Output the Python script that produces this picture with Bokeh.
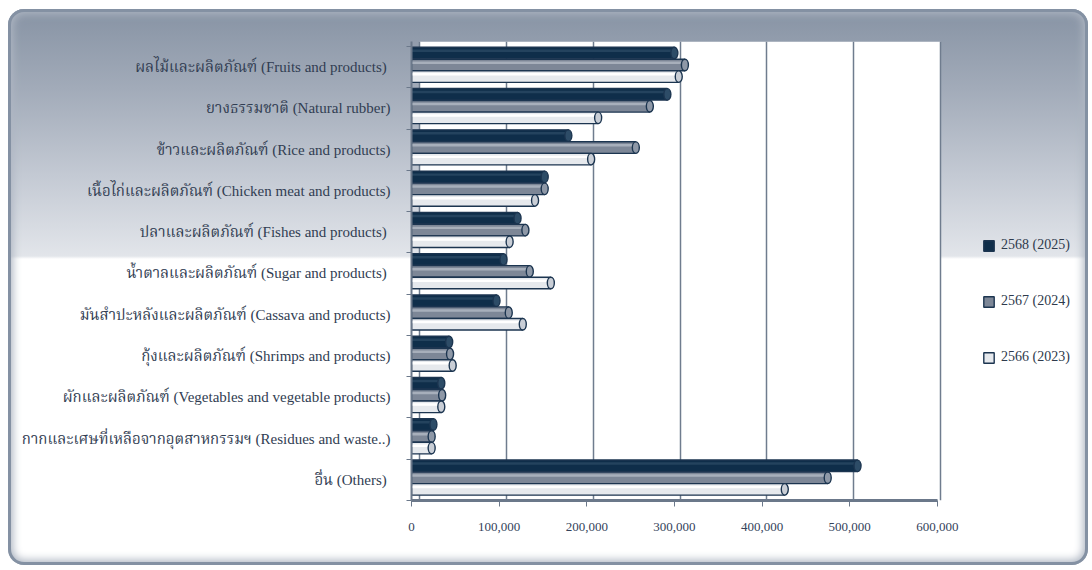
from bokeh.plotting import figure
from bokeh.models import (ColumnDataSource, Range1d, FixedTicker, NumeralTickFormatter,
                          Legend, LegendItem, Grid, BoxAnnotation)
from bokeh.transform import dodge
from bokeh.embed import file_html
from bokeh.resources import INLINE

# ---------------- data ----------------
categories = [
    "ผลไม้และผลิตภัณฑ์ (Fruits and  products)",
    "ยางธรรมชาติ (Natural rubber)",
    "ข้าวและผลิตภัณฑ์ (Rice and products)",
    "เนื้อไก่และผลิตภัณฑ์ (Chicken meat and products)",
    "ปลาและผลิตภัณฑ์ (Fishes and  products)",
    "น้ำตาลและผลิตภัณฑ์ (Sugar and  products)",
    "มันสำปะหลังและผลิตภัณฑ์ (Cassava and products)",
    "กุ้งและผลิตภัณฑ์ (Shrimps and products)",
    "ผักและผลิตภัณฑ์ (Vegetables and vegetable products)",
    "กากและเศษที่เหลือจากอุตสาหกรรมฯ (Residues and waste..)",
    "อื่น  (Others)",
]
y2568 = [300000, 292000, 179000, 152000, 121000, 105000, 97000, 43000, 34000, 25000, 509000]
y2567 = [312000, 272000, 256000, 152000, 130000, 135000, 111000, 44000, 35000, 23000, 475000]
y2566 = [305000, 213000, 205000, 141000, 112000, 159000, 127000, 47000, 34000, 23000, 426000]
series_labels = ["2568 (2025)", "2567 (2024)", "2566 (2023)"]
x_ticks = [0, 100000, 200000, 300000, 400000, 500000, 600000]

FONT = "'Liberation Serif', 'Noto Serif Thai', 'Noto Sans Thai', 'DejaVu Serif', serif"
n = len(categories)
pos = [n - 1 - i for i in range(n)]
src = ColumnDataSource(dict(pos=pos, cat=categories, a=y2568, b=y2567, c=y2566))

p = figure(width=1080, height=556, output_backend="svg", toolbar_location=None,
           x_range=Range1d(0, 758900), y_range=Range1d(-0.5, n - 0.38),
           min_border_left=403, min_border_right=12, min_border_top=32, min_border_bottom=65)
p.border_fill_color = None
p.background_fill_color = None
p.outline_line_color = None
p.xgrid.visible = False
p.ygrid.visible = False
p.styles = {
    "margin-left": "8px",
    "margin-top": "9px",
    "background": "linear-gradient(180deg, #8793a4 0px, #a2abb9 80px, #c3c9d3 165px, #e2e5ea 247px, #ffffff 250px, #ffffff 100%)",
    "border-radius": "16px",
    "box-shadow": "inset 0 0 0 3px #8491a3, inset 0 0 8px 5px #aeb6c2",
}

# back wall (3D look: slightly offset scale) and its grid
p.extra_x_ranges = {"back": Range1d(-9200, 756600)}
wall = BoxAnnotation(left=0, right=600000, x_range_name="back", fill_color="white",
                     fill_alpha=1.0, line_color=None, level="underlay")
p.add_layout(wall)
g = Grid(dimension=0, ticker=FixedTicker(ticks=x_ticks), x_range_name="back",
         grid_line_color="#6f7c8e", grid_line_width=1.5)
p.add_layout(g)

OUT = "#1c3550"
specs = [
    ("a", 0.34, "#0f2e4a", "#24435e", "#2d4c67"),
    ("b", 0.05, "#7d8797", "#a7afbb", "#8e98a7"),
    ("c", -0.23, "#e6e9ed", "#ffffff", "#c9ced6"),
]
renderers = []
for col, off, fc, hl, capc in specs:
    r = p.hbar(y=dodge("pos", off, range=p.y_range), left=0, right=col, height=0.28, source=src,
               fill_color=fc, line_color=OUT, line_width=1.4)
    p.hbar(y=dodge("pos", off + 0.055, range=p.y_range), left=0, right=col, height=0.06, source=src,
           fill_color=hl, line_color=None)
    p.ellipse(x=col, y=dodge("pos", off, range=p.y_range), width=7, height=11.5,
              width_units="screen", height_units="screen", source=src,
              fill_color=capc, line_color=OUT, line_width=1.4)
    renderers.append(r)

# axes
xa = p.xaxis[0]
xa.ticker = FixedTicker(ticks=x_ticks)
xa.bounds = (0, 600000)
xa.formatter = NumeralTickFormatter(format="0,0")
xa.axis_line_color = "#6b788a"
xa.axis_line_width = 3
xa.major_tick_line_color = "#6b788a"
xa.major_tick_out = 6
xa.major_tick_in = 0
xa.minor_tick_line_color = None
xa.major_label_standoff = 16
xa.major_label_text_font = FONT
xa.major_label_text_font_size = "13px"
xa.major_label_text_color = "#34425a"

ya = p.yaxis[0]
ya.ticker = FixedTicker(ticks=pos, minor_ticks=[k - 0.5 for k in range(n + 1)])
ya.major_label_overrides = {pos[i]: categories[i] for i in range(n)}
ya.axis_line_color = "#6b788a"
ya.axis_line_width = 2
ya.major_tick_line_color = None
ya.major_tick_out = 0
ya.major_tick_in = 0
ya.minor_tick_line_color = "#6b788a"
ya.minor_tick_out = 5
ya.minor_tick_in = 0
ya.major_label_standoff = 16
ya.major_label_text_font = FONT
ya.major_label_text_font_size = "15px"
ya.major_label_text_color = "#313d52"

legend = Legend(items=[LegendItem(label=series_labels[i], renderers=[renderers[i]]) for i in range(3)],
                location=(571, 135), glyph_width=13, glyph_height=13, label_height=13,
                spacing=40, padding=0, margin=0, label_standoff=6,
                background_fill_alpha=0, border_line_color=None,
                label_text_font=FONT, label_text_font_size="14px", label_text_color="#2e3a4c")
p.add_layout(legend)

open("out.html", "w").write(file_html(p, INLINE))
